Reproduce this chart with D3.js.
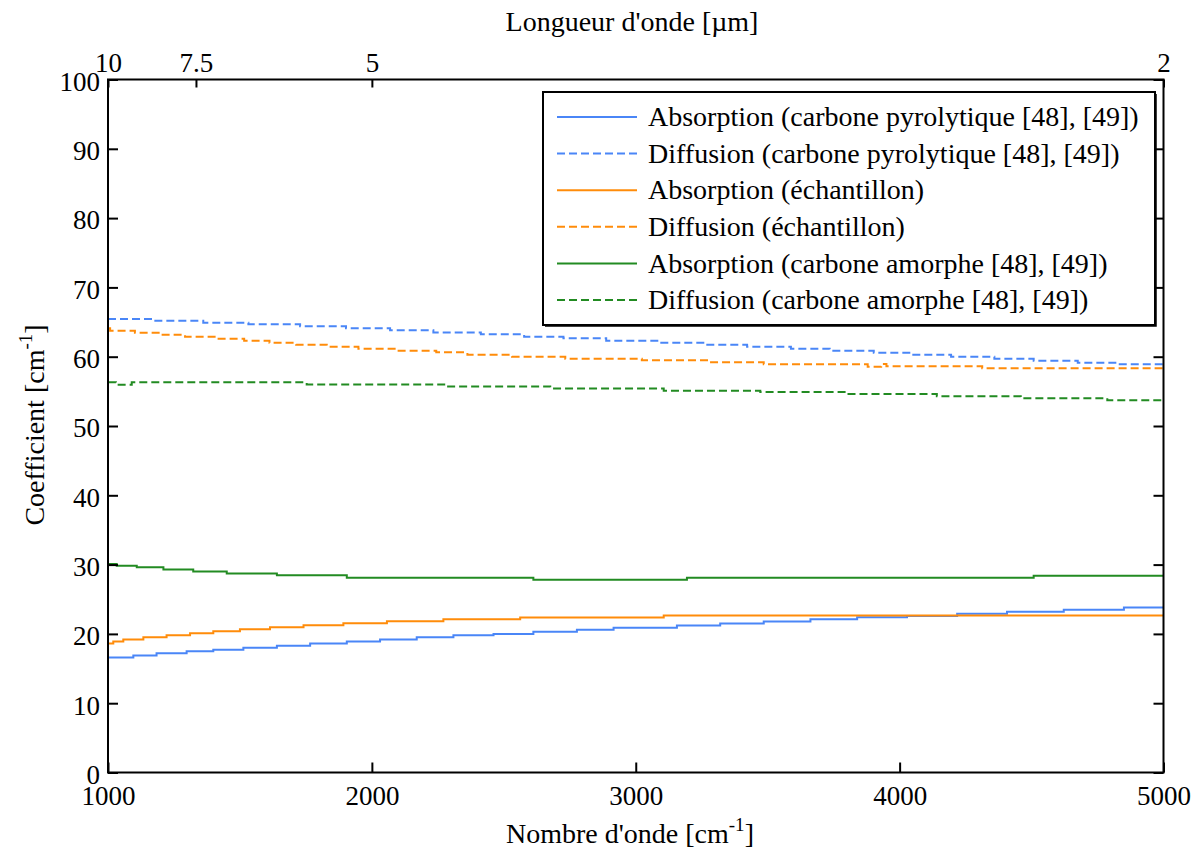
<!DOCTYPE html>
<html>
  <head>
    <meta charset="UTF-8">
    <style>
      body { margin: 0; background: #fff; }
      text { font-family: "Liberation Serif", "Times New Roman", serif; fill: #000; }
    </style>
  </head>
  <body>
    <script src="https://d3js.org/d3.v7.min.js"></script>
    <script>

var width = 1200, height = 852;

// 軸の目盛
var xTicks = [1000, 2000, 3000, 4000, 5000];
var yTicks = [0, 10, 20, 30, 40, 50, 60, 70, 80, 90, 100];
var lambdaTicks = [10, 7.5, 5, 2];

// [nombre d'onde, coefficient] : paliers
var absPyro = [[1000,16.6],[1096,16.9],[1184,17.2],[1298,17.5],[1399,17.7],[1513,18.0],[1640,18.3],[1766,18.6],
  [1905,18.9],[2031,19.2],[2170,19.5],[2309,19.8],[2461,20.0],[2612,20.3],[2777,20.6],[2916,20.9],[3156,21.2],
  [3320,21.5],[3485,21.8],[3662,22.1],[3839,22.4],[4028,22.6],[4218,22.9],[4407,23.2],[4622,23.5],[4850,23.8],[5000,23.8]];
var difPyro = [[1000,65.43],[1172,65.19],[1361,64.90],[1532,64.67],[1728,64.38],[1902,64.09],[2069,63.80],[2233,63.51],
  [2413,63.23],[2577,62.88],[2726,62.65],[2888,62.30],[3093,62.01],[3264,61.72],[3422,61.44],[3588,61.15],[3735,60.86],
  [3902,60.57],[4047,60.28],[4195,59.99],[4359,59.71],[4508,59.42],[4675,59.13],[4822,58.90],[5000,58.90]];
var absEch = [[1000,18.60],[1020,18.89],[1058,19.18],[1134,19.53],[1222,19.82],[1311,20.10],[1399,20.39],[1500,20.68],
  [1614,20.97],[1741,21.26],[1892,21.55],[2057,21.84],[2271,22.12],[2562,22.35],[3106,22.64],[5000,22.64]];
var difEch = [[1000,64.09],[1008,63.74],[1102,63.46],[1197,63.17],[1292,62.88],[1415,62.59],[1516,62.30],[1612,62.01],
  [1713,61.72],[1829,61.44],[1949,61.15],[2097,60.86],[2244,60.63],[2362,60.28],[2531,59.99],[2733,59.71],[3023,59.47],
  [3270,59.19],[3485,58.90],[3879,58.55],[3930,58.94],[3950,58.61],[4313,58.32],[5000,58.32]];
var absAmor = [[1000,30.1],[1033,29.85],[1109,29.6],[1210,29.3],[1323,29.0],[1450,28.7],[1640,28.45],[1905,28.1],
  [2612,27.8],[3194,28.1],[4508,28.4],[5000,28.4]];
var difAmor = [[1000,56.3],[1030,55.96],[1090,56.3],[1753,56.0],[2284,55.7],[2676,55.4],[3106,55.1],[3472,54.9],
  [3800,54.6],[4141,54.3],[4459,54.0],[4787,53.7],[5000,53.7]];

var series = [
  { name: "Absorption (carbone pyrolytique [48], [49])", data: absPyro, color: "#4a86f7", dash: null },
  { name: "Diffusion (carbone pyrolytique [48], [49])",  data: difPyro, color: "#4a86f7", dash: "8,4" },
  { name: "Absorption (échantillon)",                     data: absEch,  color: "#ff8c0a", dash: null },
  { name: "Diffusion (échantillon)",                      data: difEch,  color: "#ff8c0a", dash: "8,4" },
  { name: "Absorption (carbone amorphe [48], [49])",     data: absAmor, color: "#228b22", dash: null },
  { name: "Diffusion (carbone amorphe [48], [49])",      data: difAmor, color: "#228b22", dash: "8,4" }
];

var pLeft = 108, pRight = 1163.5, pTop = 79.5, pBottom = 772.5;

var svg = d3.select("body").append("svg")
    .attr("width", width).attr("height", height);

var x = d3.scaleLinear().domain([1000, 5000]).range([pLeft, pRight]);
var y = d3.scaleLinear().domain([0, 100]).range([pBottom, pTop]);

// courbes
var line = d3.line()
    .x(function(d) { return x(d[0]); })
    .y(function(d) { return y(d[1]); })
    .curve(d3.curveStepAfter);

svg.append("g").selectAll("path")
    .data(series)
    .enter().append("path")
    .attr("d", function(d) { return line(d.data); })
    .attr("fill", "none")
    .attr("stroke", function(d) { return d.color; })
    .attr("stroke-width", 2)
    .attr("stroke-dasharray", function(d) { return d.dash; });

// axes
function styleAxis(g) {
    g.select(".domain").remove();
    g.selectAll(".tick line").attr("stroke", "#000").attr("stroke-width", 2);
    g.selectAll(".tick text").attr("fill", "#000").style("font-size", "27px").style("font-family", "Liberation Serif");
}

svg.append("g")
    .attr("transform", "translate(0," + pBottom + ")")
    .call(d3.axisBottom(x).tickValues(xTicks).tickSizeInner(-10).tickPadding(13).tickFormat(d3.format("d")))
    .call(styleAxis);

svg.append("g")
    .attr("transform", "translate(" + pLeft + ",0)")
    .call(d3.axisLeft(y).tickValues(yTicks).tickSizeInner(-10).tickPadding(8))
    .call(styleAxis)
    .selectAll(".tick text").attr("dy", "0.4em");

svg.append("g")
    .attr("transform", "translate(" + pRight + ",0)")
    .call(d3.axisRight(y).tickValues(yTicks).tickSizeInner(-10).tickFormat(""))
    .call(styleAxis);

svg.append("g")
    .attr("transform", "translate(0," + pTop + ")")
    .call(d3.axisTop(x).tickValues(lambdaTicks.map(function(l) { return 1e4 / l; }))
        .tickSizeInner(-8).tickPadding(8)
        .tickFormat(function(d) { return String(+(1e4 / d).toFixed(1)); }))
    .call(styleAxis);

// cadre
svg.append("rect")
    .attr("x", pLeft).attr("y", pTop)
    .attr("width", pRight - pLeft).attr("height", pBottom - pTop)
    .attr("fill", "none").attr("stroke", "#000").attr("stroke-width", 2);

// titres
var xt = svg.append("text").attr("x", 630).attr("y", 843).attr("text-anchor", "middle").style("font-size", "28px");
xt.append("tspan").text("Nombre d'onde [cm");
xt.append("tspan").attr("dy", -12).style("font-size", "19px").text("-1");
xt.append("tspan").attr("dy", 12).text("]");

svg.append("text").attr("x", 632).attr("y", 31).attr("text-anchor", "middle")
    .style("font-size", "28px").text("Longueur d'onde [µm]");

var yt = svg.append("text").attr("transform", "translate(44,425) rotate(-90)")
    .attr("text-anchor", "middle").style("font-size", "28px");
yt.append("tspan").text("Coefficient [cm");
yt.append("tspan").attr("dy", -12).style("font-size", "19px").text("-1");
yt.append("tspan").attr("dy", 12).text("]");

// légende
var lx = 543, ly = 92, lw = 612, lh = 233, rowH = 36.6;
svg.append("rect")
    .attr("x", lx).attr("y", ly).attr("width", lw).attr("height", lh)
    .attr("fill", "#fff").attr("stroke", "#000").attr("stroke-width", 2);
svg.append("path")
    .attr("d", "M" + (lx + 2) + "," + (ly + lh + 1) + "H" + (lx + lw + 1) + "V" + (ly + 2))
    .attr("fill", "none").attr("stroke", "#000").attr("stroke-width", 1.5);

var item = svg.append("g").selectAll("g")
    .data(series)
    .enter().append("g")
    .attr("transform", function(d, i) { return "translate(0," + (ly + 25 + i * rowH) + ")"; });

item.append("line")
    .attr("x1", lx + 14).attr("x2", lx + 94)
    .attr("stroke", function(d) { return d.color; })
    .attr("stroke-width", 2)
    .attr("stroke-dasharray", function(d) { return d.dash; });

item.append("text")
    .attr("x", lx + 105).attr("dy", "0.33em")
    .style("font-size", "28px")
    .text(function(d) { return d.name; });

    </script>
  </body>
</html>
